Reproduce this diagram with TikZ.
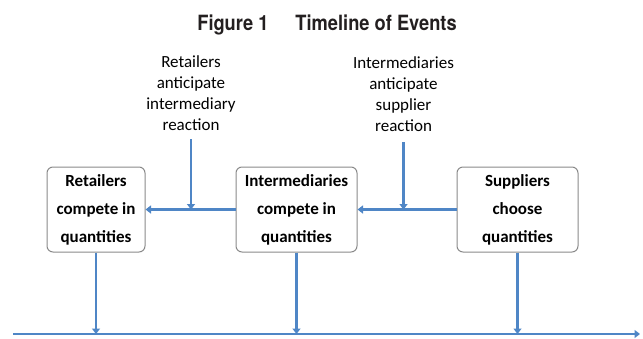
\documentclass[tikz,border=0pt]{standalone}
\usepackage{fontspec}
\setmainfont{Carlito}
\newfontfamily\titlefont[FakeStretch=0.87]{TeX Gyre Heros}
\usetikzlibrary{arrows.meta}
\definecolor{lineblue}{HTML}{4F86C6}
\definecolor{boxgray}{HTML}{8A8A8A}
\definecolor{titleblack}{HTML}{231F20}
\tikzset{
  evbox/.style={draw=boxgray, line width=1pt, rounded corners=6pt, fill=white,
    align=center, inner sep=0pt, minimum height=85pt,
    font=\fontsize{17}{28}\selectfont\bfseries},
  antlabel/.style={align=center, inner sep=0pt, font=\fontsize{17}{21}\selectfont},
  conn/.style={draw=lineblue, line width=2.4pt,
    -{Triangle[width=8pt,length=5.5pt]}},
  tline/.style={draw=lineblue, line width=2.4pt}
}
\begin{document}
\begin{tikzpicture}[x=1pt,y=-1pt]
\useasboundingbox (0,0) rectangle (643,338);
% title
\node[anchor=base, inner sep=0pt, text=titleblack,
  font=\titlefont\fontsize{21}{24}\selectfont\bfseries] (title) at (327,30)
  {Figure 1\hspace{27pt}Timeline of Events};
% boxes
\node[evbox, minimum width=98pt] (R) at (96,209.5) {Retailers\\compete in\\quantities};
\node[evbox, minimum width=121pt] (I) at (296.5,209.5) {Intermediaries\\compete in\\quantities};
\node[evbox, minimum width=121pt] (S) at (517.5,209.5) {Suppliers\\choose\\quantities};
% labels
\node[antlabel] (L1) at (191,93) {Retailers\\anticipate\\intermediary\\reaction};
\node[antlabel] (L2) at (403.5,94.5) {Intermediaries\\anticipate\\supplier\\reaction};
% anticipation arrows
\coordinate (a1) at (191,139);
\coordinate (a2) at (403.5,142);
\draw[conn] (I.west) -- (R.east);
\draw[conn] (S.west) -- (I.east);
\draw[conn] (a1) -- (a1 |- R.east);
\draw[conn] (a2) -- (a2 |- I.east);
% timeline
\coordinate (t0) at (13,334);
\coordinate (t1) at (640,334);
\draw[conn] (t0) -- (t1);
\draw[conn] (R.south) -- (R.south |- t0);
\draw[conn] (I.south) -- (I.south |- t0);
\draw[conn] (S.south) -- (S.south |- t0);
\end{tikzpicture}
\end{document}
